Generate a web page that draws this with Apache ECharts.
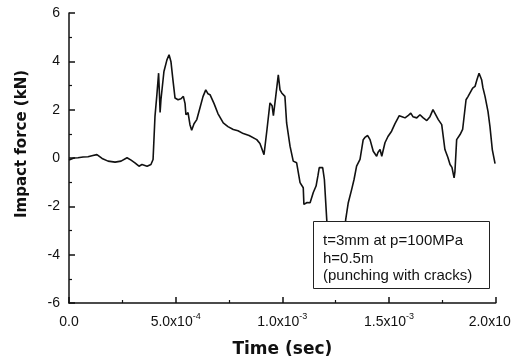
<!DOCTYPE html>
<html>
<head>
<meta charset="utf-8">
<script src="https://cdn.jsdelivr.net/npm/echarts@6/dist/echarts.min.js"></script>
<style>html,body{margin:0;padding:0;background:#fff}#c{width:527px;height:363px}</style>
</head>
<body>
<div id="c"></div>
<script>
// time in microseconds
var timeUs = [0,23,42,66,89,112,131,155,183,216,244,272,291,309,328,342,366,384,394,403,412,420,424,427,431,445,459,469,478,487,497,511,525,536,544,548,558,567,575,586,599,614,628,641,651,661,680,698,723,745,770,792,817,844,880,895,914,928,942,952,958,970,981,989,997,1012,1020,1036,1051,1067,1083,1098,1101,1116,1130,1145,1158,1167,1173,1181,1189,1197,1208,1214,1233,1256,1280,1297,1309,1325,1336,1348,1364,1379,1387,1400,1411,1426,1442,1448,1458,1466,1481,1495,1512,1528,1548,1561,1575,1589,1602,1612,1630,1645,1659,1677,1692,1706,1715,1731,1747,1762,1776,1786,1795,1805,1809,1817,1833,1845,1861,1870,1879,1892,1903,1912,1922,1934,1940,1950,1964,1973,1984,1997];
// impact force in kN
var forceKN = [-0.08,0.0,0.01,0.04,0.05,0.10,0.14,-0.02,-0.13,-0.17,-0.13,0.01,-0.09,-0.20,-0.34,-0.27,-0.34,-0.27,-0.06,1.72,2.62,3.51,2.62,1.88,2.41,3.58,4.06,4.27,3.98,3.24,2.48,2.41,2.45,2.55,2.25,1.79,1.88,1.38,1.15,1.42,1.59,2.08,2.54,2.82,2.66,2.62,2.25,1.84,1.45,1.30,1.18,1.13,1.01,0.93,0.76,0.60,0.14,1.18,2.28,2.16,1.75,2.62,3.44,2.82,2.69,2.55,1.45,0.49,-0.13,-0.20,-1.02,-1.23,-1.92,-1.84,-1.85,-1.43,-1.16,-0.72,-0.40,-0.35,-0.40,-0.89,-2.54,-3.36,-4.27,-4.6,-4.1,-2.54,-1.85,-1.30,-0.89,-0.34,-0.06,0.76,0.85,0.93,0.76,0.28,0.07,0.23,0.35,0.07,0.63,0.89,1.11,1.42,1.75,1.71,1.66,1.75,1.86,1.71,1.66,1.79,1.67,1.55,1.71,2.0,2.07,1.59,1.38,0.35,0.02,-0.27,-0.39,-0.82,-0.56,0.76,0.97,1.18,2.41,2.54,2.62,2.89,2.96,3.24,3.51,3.24,2.91,2.55,1.92,1.31,0.35,-0.23];
var xTickValues = [0, 0.0005, 0.001, 0.0015, 0.002];
var xTickLabels = ['0.0', '5.0x10{s|-4}', '1.0x10{s|-3}', '1.5x10{s|-3}', '{e|2.0x10}'];
var legendLines = ['t=3mm at p=100MPa', 'h=0.5m', '(punching with cracks)'];

var data = timeUs.map(function (t, i) { return [t * 1e-6, forceKN[i]]; });

var chart = echarts.init(document.getElementById('c'));
var labelFont = '"Liberation Sans", Arial, sans-serif';
var titleFont = '"DejaVu Sans", sans-serif';

var legendGraphics = [{
  type: 'rect', z: 100,
  shape: { x: 313.5, y: 221.5, width: 176, height: 67 },
  style: { fill: '#fff', stroke: '#222', lineWidth: 1 }
}];
legendLines.forEach(function (txt, i) {
  legendGraphics.push({
    type: 'text', z: 101, x: 323, y: 241 + i * 17.5,
    style: { text: txt, font: '15px ' + labelFont, fill: '#111', align: 'left', verticalAlign: 'middle', textAlign: 'left', textVerticalAlign: 'middle' }
  });
});
legendGraphics.push({
  type: 'text', z: 101, x: 22, y: 144, rotation: Math.PI / 2,
  style: { text: 'Impact force (kN)', font: 'bold 15px ' + titleFont, fill: '#111', align: 'center', verticalAlign: 'middle', textAlign: 'center', textVerticalAlign: 'middle' }
});

chart.setOption({
  animation: false,
  backgroundColor: '#fff',
  grid: { left: 69, right: 31.3, top: 13, bottom: 59, containLabel: false },
  xAxis: {
    type: 'value', min: 0, max: 0.002, interval: 0.0005,
    name: 'Time (sec)', nameLocation: 'middle', nameGap: 38,
    nameTextStyle: { fontFamily: titleFont, fontWeight: 'bold', fontSize: 17, color: '#111', verticalAlign: 'top' },
    axisLine: { show: true, onZero: false, lineStyle: { color: '#111', width: 1.5 } },
    axisTick: { show: true, inside: true, length: 6, lineStyle: { color: '#111', width: 1.5 } },
    minorTick: { show: true, splitNumber: 2, length: 3, lineStyle: { color: '#111', width: 1.2 } },
    splitLine: { show: false },
    axisLabel: {
      margin: 9, fontFamily: labelFont, fontSize: 14, color: '#111', lineHeight: 20,
      formatter: function (v) {
        for (var i = 0; i < xTickValues.length; i++) {
          if (Math.abs(v - xTickValues[i]) < 1e-9) return xTickLabels[i];
        }
        return '';
      },
      rich: {
        s: { fontFamily: labelFont, fontSize: 9, lineHeight: 10, verticalAlign: 'top', color: '#111' },
        e: { fontFamily: labelFont, fontSize: 14, lineHeight: 20, color: '#111', padding: [0, 12, 0, 0] }
      }
    }
  },
  yAxis: {
    type: 'value', min: -6, max: 6, interval: 2,
    axisLine: { show: true, onZero: false, lineStyle: { color: '#111', width: 1.5 } },
    axisTick: { show: true, inside: true, length: 6, lineStyle: { color: '#111', width: 1.5 } },
    minorTick: { show: true, splitNumber: 2, length: 3, lineStyle: { color: '#111', width: 1.2 } },
    splitLine: { show: false },
    axisLabel: { margin: 9, fontFamily: labelFont, fontSize: 14, color: '#111' }
  },
  graphic: { elements: legendGraphics },
  series: [{
    type: 'line', data: data, showSymbol: false, symbol: 'none',
    lineStyle: { color: '#111', width: 1.6 }, z: 2, clip: true
  }]
});
</script>
</body>
</html>
